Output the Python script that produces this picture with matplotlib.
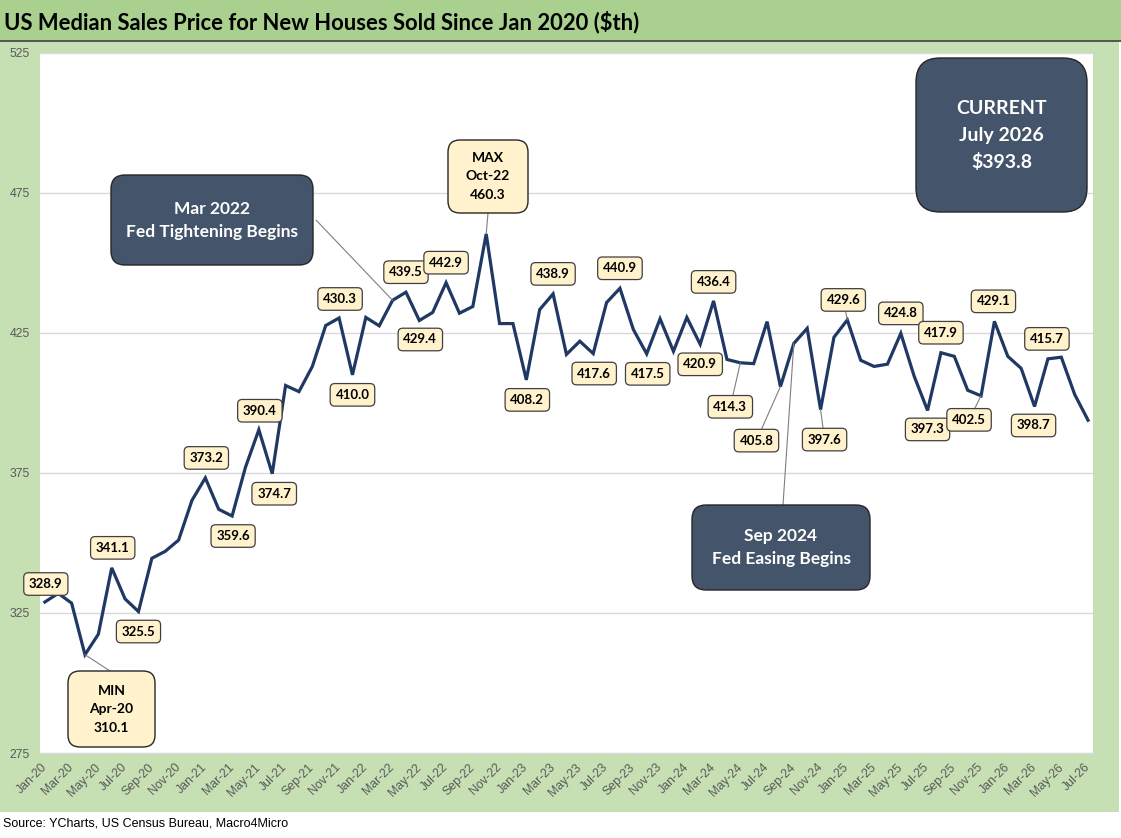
import matplotlib
matplotlib.use("Agg")
import matplotlib.pyplot as plt
import pandas as pd
from matplotlib.patches import FancyBboxPatch, Rectangle, ConnectionPatch


W, H = 1121, 838

months = pd.date_range("2020-01-01", "2026-07-01", freq="MS").strftime("%b-%y").tolist()

prices = [
    328.9, 332.0, 328.5, 310.1, 317.4, 341.1, 330.0, 325.5, 344.5, 347.0, 351.0, 365.2,
    373.2, 362.0, 359.6, 377.0, 390.4, 374.7, 406.2, 404.0, 413.0, 427.6, 430.3, 410.0,
    430.5, 427.5, 436.6, 439.5, 429.4, 432.3, 442.9, 432.0, 434.4, 460.3, 428.3, 428.3,
    408.2, 433.3, 438.9, 417.3, 422.0, 417.6, 435.8, 440.9, 426.2, 417.5, 430.0, 418.4,
    430.5, 420.9, 436.4, 415.5, 414.3, 414.0, 429.0, 405.8, 421.2, 426.6, 397.6, 423.4,
    429.6, 415.2, 413.0, 413.8, 424.8, 409.5, 397.3, 417.9, 416.6, 404.5, 402.5, 429.1,
    416.6, 412.3, 398.7, 415.7, 416.3, 403.0, 393.8,
]

y_ticks = [275, 325, 375, 425, 475, 525]

# labelled points: (month index, dx px, dy px, leader line)
labels = [
    (0, 1, -18, False), (5, 1, -20, False), (7, 0, 20, False),
    (12, 1, -20, False), (14, 1, 20, False), (16, 1, -19, False),
    (17, 2, 20, False), (22, 1, -19, False), (23, 0, 20, False),
    (27, 0, -20, False), (28, 1, 19, False), (30, 0, -20, False),
    (36, 1, 20, False), (38, 0, -20, False), (41, 1, 20, False),
    (43, 0, -20, False), (45, 1, 20, False), (49, 0, 20, False),
    (50, 0, -19, False), (52, -10, 44, True), (55, -24, 54, True),
    (58, 4, 30, True), (60, -4, -20, True), (64, 0, -20, False),
    (66, 0, 19, False), (67, 0, -20, False), (70, -12, 24, True),
    (71, -1, -20, False), (74, -1, 19, False), (75, -1, -20, False),
]

i_min = prices.index(min(prices))
i_max = prices.index(max(prices))
i_tight = months.index("Mar-22")
i_ease = months.index("Sep-24")

NAVY = "#1F3864"
SLATE = "#44546A"
CREAM = "#FFF2CC"
GREEN_DARK = "#A9D08E"
GREEN_LIGHT = "#C6E0B4"
FONT = "Lato"

fig = plt.figure(figsize=(W / 100, H / 100), dpi=100)

# background layer in pixel coords
bg = fig.add_axes([0, 0, 1, 1], zorder=0)
bg.set_xlim(0, W)
bg.set_ylim(H, 0)
bg.axis("off")
bg.add_patch(Rectangle((0, 0), W, 41, color=GREEN_DARK, lw=0))
bg.add_patch(Rectangle((0, 41), W - 2, 771, color=GREEN_LIGHT, lw=0))
bg.plot([0, W], [41, 41], color="#404040", lw=1.2)
bg.text(4, 22, "US Median Sales Price for New Houses Sold Since Jan 2020 ($th)",
        fontsize=15.8, fontweight="bold", family=FONT, va="center", ha="left")
bg.text(3, 823, "Source: YCharts, US Census Bureau, Macro4Micro",
        fontsize=9, family="Liberation Sans", va="center", ha="left")

# main chart
ax = fig.add_axes([39.5 / W, 1 - 753 / H, 1053.5 / W, 700.3 / H], zorder=1)
ax.set_facecolor("white")
ax.plot(range(len(prices)), prices, color=NAVY, lw=2.3, solid_joinstyle="miter")
ax.set_xlim(-0.4, len(prices) - 1 + 0.37)
ax.set_ylim(275, 525)
ax.set_yticks(y_ticks)
ax.set_xticks(range(0, len(months), 2))
ax.set_xticklabels(months[::2], rotation=45, ha="right", va="center",
                   rotation_mode="anchor")
ax.tick_params(axis="both", length=0, colors="#595959", labelsize=8.8)
ax.tick_params(axis="y", pad=7)
ax.tick_params(axis="x", pad=9)
for lab in ax.get_xticklabels() + ax.get_yticklabels():
    lab.set_family("Liberation Sans")
ax.yaxis.grid(True, color="#D9D9D9", lw=1)
ax.set_axisbelow(True)
for side in ["top", "left", "right"]:
    ax.spines[side].set_visible(False)
ax.spines["bottom"].set_color("#D9D9D9")

for i, dx, dy, leader in labels:
    arrow = dict(arrowstyle="-", color="#7F7F7F", lw=0.8, shrinkA=0, shrinkB=0) if leader else None
    ax.annotate(
        f"{prices[i]:.1f}",
        xy=(i, prices[i]),
        xytext=(dx * 0.72, -dy * 0.72),
        textcoords="offset points",
        ha="center", va="center",
        fontsize=9.5, fontweight="bold", family=FONT,
        bbox=dict(boxstyle="round,pad=0.4,rounding_size=0.35", fc=CREAM,
                  ec="#404040", lw=0.9),
        arrowprops=arrow,
        zorder=5,
    )

# callout layer in pixel coords
top = fig.add_axes([0, 0, 1, 1], zorder=2)
top.set_xlim(0, W)
top.set_ylim(H, 0)
top.axis("off")
top.patch.set_alpha(0)


def callout(x0, y0, x1, y1, lines, fc, tc, fs, gap, radius):
    top.add_patch(FancyBboxPatch(
        (x0 + radius, y0 + radius), x1 - x0 - 2 * radius, y1 - y0 - 2 * radius,
        boxstyle=f"round,pad={radius},rounding_size={radius}",
        fc=fc, ec="#262626", lw=1.0, zorder=3))
    cy = (y0 + y1) / 2
    n = len(lines)
    for k, line in enumerate(lines):
        top.text((x0 + x1) / 2, cy + (k - (n - 1) / 2) * gap, line,
                 color=tc, fontsize=fs, fontweight="bold", family=FONT,
                 ha="center", va="center", zorder=4)


def leader(px, py, i):
    top.add_artist(ConnectionPatch(
        xyA=(px, py), coordsA=top.transData,
        xyB=(i, prices[i]), coordsB=ax.transData,
        color="#7F7F7F", lw=0.8, zorder=2))


leader(316, 220, i_tight)
leader(783, 505, i_ease)
leader(110, 671, i_min)
leader(488, 213, i_max)

callout(111, 175, 313, 265, ["Mar 2022", "Fed Tightening Begins"],
        SLATE, "white", 12.5, 23, 14)
callout(692, 505, 870, 590, ["Sep 2024", "Fed Easing Begins"],
        SLATE, "white", 12.5, 23, 14)
callout(916, 58, 1087, 212, ["CURRENT", "July 2026", f"${prices[-1]:.1f}"],
        SLATE, "white", 14, 27, 24)
callout(68, 671, 155, 747, ["MIN", months[i_min], f"{prices[i_min]:.1f}"],
        CREAM, "black", 10, 18.5, 12)
callout(448, 140, 528, 213, ["MAX", months[i_max], f"{prices[i_max]:.1f}"],
        CREAM, "black", 10, 18.5, 12)

fig.savefig("out.png", dpi=100)
